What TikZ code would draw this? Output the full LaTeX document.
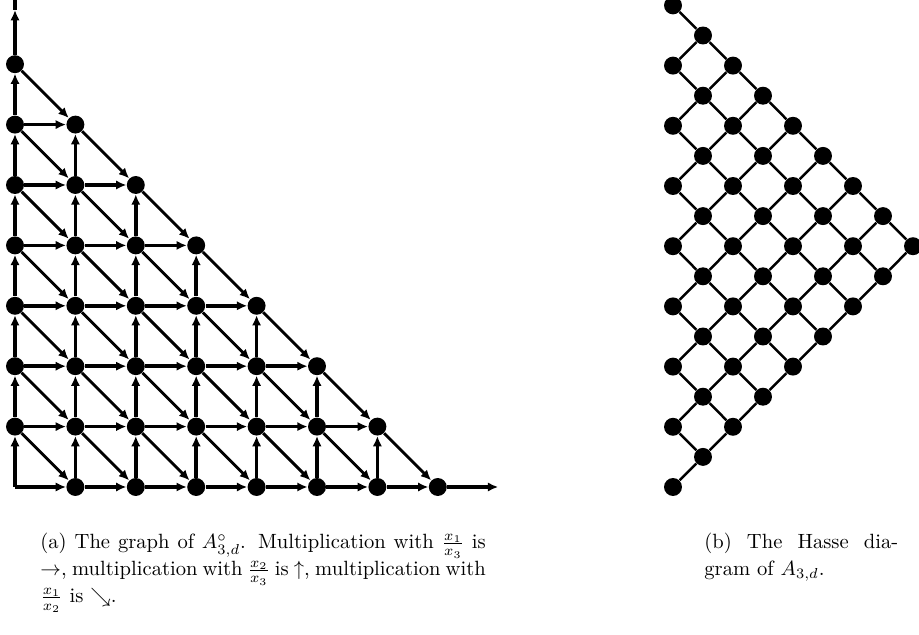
\documentclass[tikz,border=0pt]{standalone}
\usepackage{tikz}
\usetikzlibrary{arrows.meta}

\begin{document}
\begin{tikzpicture}[
    x=0.485pt, y=-0.485pt,
    dot/.style={circle, fill=black, inner sep=0pt, minimum size=8.7pt},
    arr/.style={-{Latex[length=5pt, width=4.5pt]}, line width=1.7pt},
    darr/.style={-{Latex[length=5pt, width=4.5pt]}, line width=1.4pt},
    hline/.style={line width=1.2pt},
    capt/.style={anchor=north west, align=justify, inner sep=0pt,
        font=\fontsize{10}{13.1}\selectfont}
]
\useasboundingbox (0,0) rectangle (919,635);

% Graph of A_{3,d}^o
\coordinate (g-0-0) at (15,487);
\foreach \i in {0,...,7}{
  \foreach \j in {0,...,7}{
    \pgfmathtruncatemacro{\s}{\i+\j}
    \ifnum\s<8 \ifnum\s>0
      \node[dot] (g-\i-\j) at ({15+60.4*\i},{487-60.4*\j}) {};
    \fi\fi
  }
}
\coordinate (xend) at ({15+60.4*8},487);
\coordinate (ytip) at (15,10);
\coordinate (ytop) at (15,0);

% Arrows
\foreach \i in {0,...,6}{
  \pgfmathtruncatemacro{\jmax}{6-\i}
  \foreach \j in {0,...,\jmax}{
    \pgfmathtruncatemacro{\ii}{\i+1}
    \pgfmathtruncatemacro{\jj}{\j+1}
    \draw[arr] (g-\i-\j) -- (g-\ii-\j);
    \draw[arr] (g-\i-\j) -- (g-\i-\jj);
    \draw[darr] (g-\i-\jj) -- (g-\ii-\j);
  }
}
\draw[arr] (g-7-0) -- (xend);
\draw[line width=1.7pt] (ytip) -- (ytop);
\draw[arr] (g-0-7) -- (ytip);

% Hasse diagram
\foreach \u in {0,...,8}{
  \foreach \v in {0,...,\u}{
    \node[dot] (h-\u-\v) at ({673+30*(\u-\v)},{487-30.1*(\u+\v)}) {};
  }
}
\foreach \u in {0,...,7}{
  \pgfmathtruncatemacro{\uu}{\u+1}
  \foreach \v in {0,...,\u}{
    \draw[hline] (h-\u-\v) -- (h-\uu-\v);
  }
}
\foreach \u in {1,...,8}{
  \pgfmathtruncatemacro{\vmax}{\u-1}
  \foreach \v in {0,...,\vmax}{
    \pgfmathtruncatemacro{\vv}{\v+1}
    \draw[hline] (h-\u-\v) -- (h-\u-\vv);
  }
}

% Captions
\node[capt, text width=216pt] (capa) at (40,533)
  {(a) The graph of $A^\circ_{3,d}$. Multiplication with $\frac{x_1}{x_3}$ is\linebreak
   $\rightarrow$, multiplication with $\frac{x_2}{x_3}$ is $\uparrow$, multiplication with\linebreak
   $\frac{x_1}{x_2}$ is $\searrow$.};
\node[capt, text width=94pt] (capb) at (704,533)
  {(b) The Hasse dia-\linebreak gram of $A_{3,d}$.};

\end{tikzpicture}
\end{document}
